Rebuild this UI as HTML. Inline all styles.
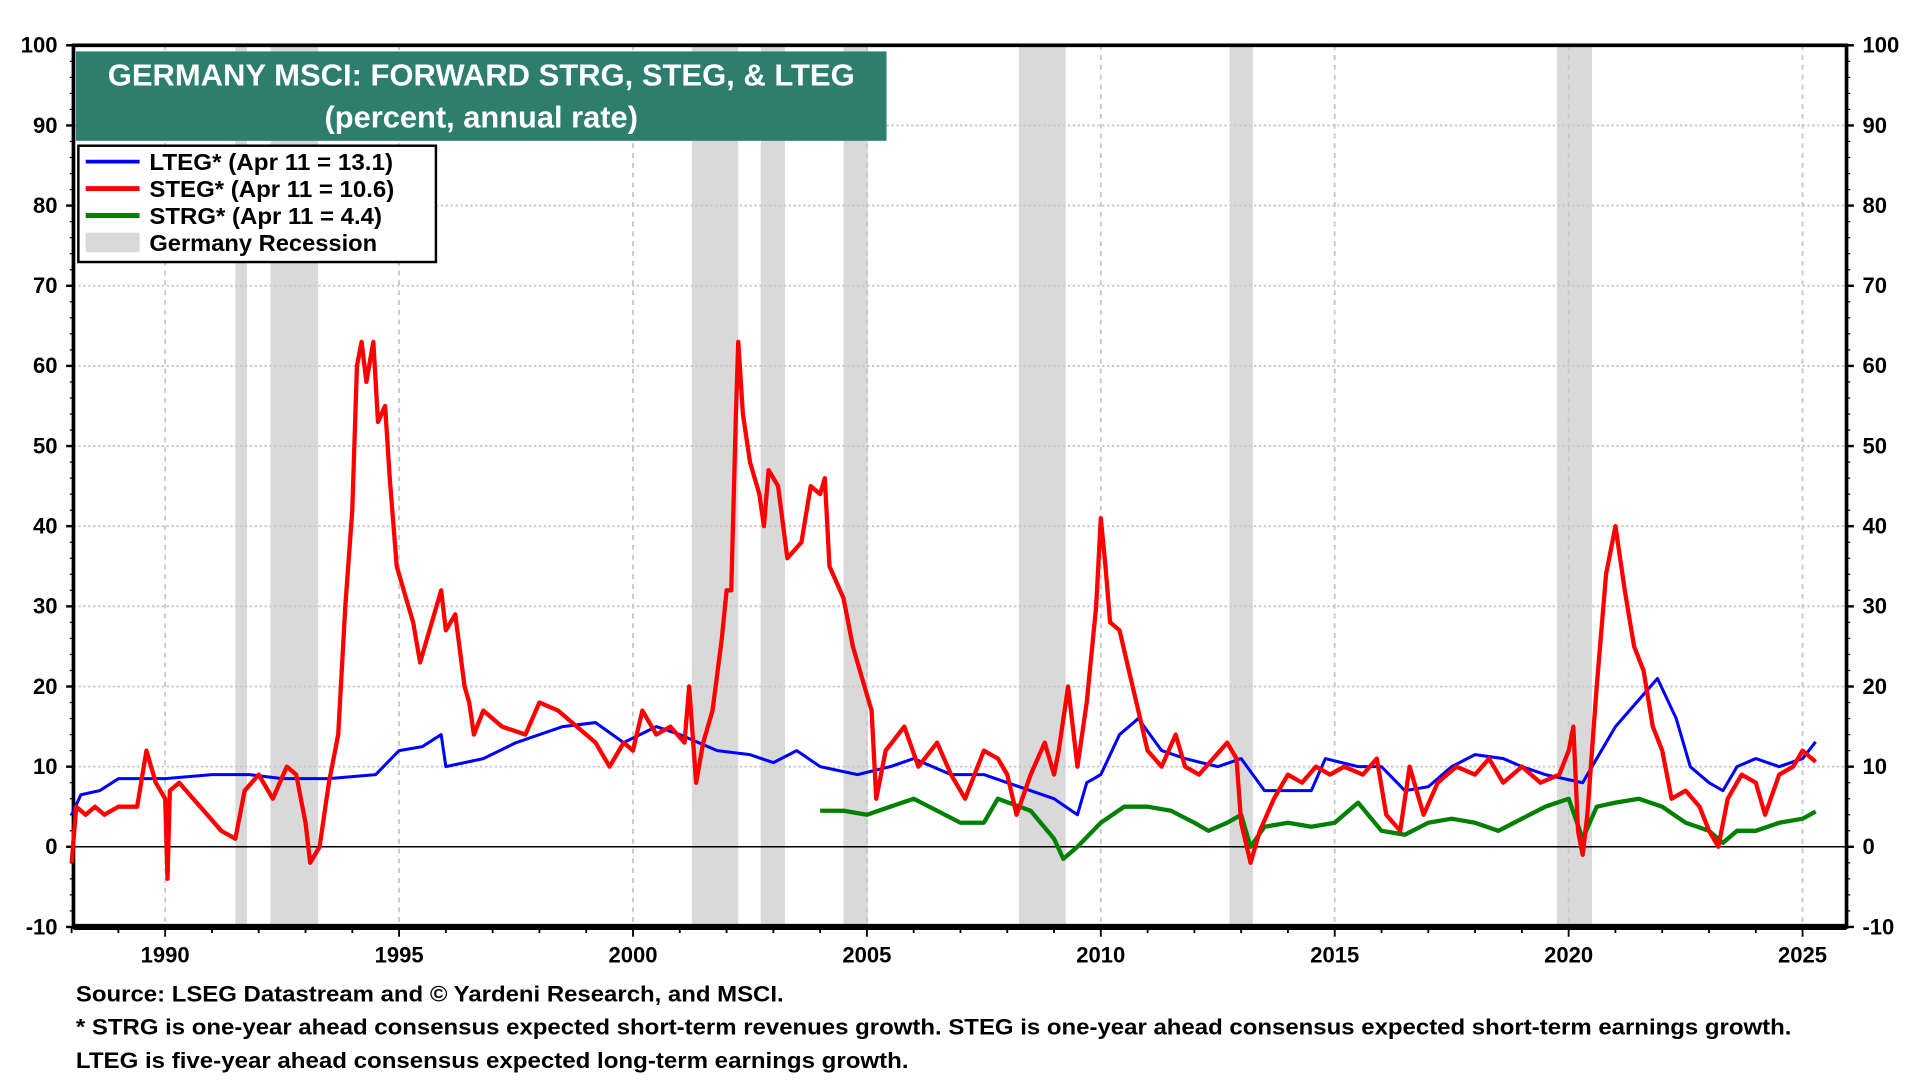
<!DOCTYPE html>
<html><head><meta charset="utf-8"><style>
html,body{margin:0;padding:0;background:#fff;}
svg{display:block;font-family:"Liberation Sans",sans-serif;font-weight:bold;}
</style></head><body>
<svg id="chart" width="1920" height="1080" viewBox="0 0 1568 882" preserveAspectRatio="none" xmlns="http://www.w3.org/2000/svg">
<g id="rec"></g>
<g id="grid"></g>
<g id="axes"></g>
<g id="series"></g>
<rect x="62" y="42" width="662" height="73" fill="#2e7e70"/>
<text x="393" y="70" fill="#fff" font-size="25" text-anchor="middle" textLength="610" lengthAdjust="spacingAndGlyphs">GERMANY MSCI: FORWARD STRG, STEG, &amp; LTEG</text>
<text x="393" y="104" fill="#fff" font-size="25" text-anchor="middle" textLength="256" lengthAdjust="spacingAndGlyphs">(percent, annual rate)</text>
<g>
<rect x="64" y="119" width="292" height="95" fill="#fff" stroke="#000" stroke-width="2"/>
<line x1="70" y1="132" x2="114" y2="132" stroke="#0000ff" stroke-width="3"/>
<text x="122" y="139" font-size="19" textLength="199" lengthAdjust="spacingAndGlyphs">LTEG* (Apr 11 = 13.1)</text>
<line x1="70" y1="154" x2="114" y2="154" stroke="#ff0000" stroke-width="4"/>
<text x="122" y="161" font-size="19" textLength="200" lengthAdjust="spacingAndGlyphs">STEG* (Apr 11 = 10.6)</text>
<line x1="70" y1="176" x2="114" y2="176" stroke="#008000" stroke-width="4"/>
<text x="122" y="183" font-size="19" textLength="190" lengthAdjust="spacingAndGlyphs">STRG* (Apr 11 = 4.4)</text>
<rect x="70" y="190" width="44" height="16" fill="#d9d9d9"/>
<text x="122" y="205" font-size="19" textLength="186" lengthAdjust="spacingAndGlyphs">Germany Recession</text>
</g>
<text x="62" y="818" font-size="18" textLength="578" lengthAdjust="spacingAndGlyphs">Source: LSEG Datastream and © Yardeni Research, and MSCI.</text>
<text x="62" y="845" font-size="18" textLength="1401" lengthAdjust="spacingAndGlyphs">* STRG is one-year ahead consensus expected short-term revenues growth. STEG is one-year ahead consensus expected short-term earnings growth.</text>
<text x="62" y="872" font-size="18" textLength="680" lengthAdjust="spacingAndGlyphs">LTEG is five-year ahead consensus expected long-term earnings growth.</text>
</svg>
<script>
const recessions=[[1991.5,1991.75],[1992.25,1993.27],[2001.26,2002.25],[2002.73,2003.25],[2004.5,2005.02],[2008.25,2009.25],[2012.75,2013.25],[2019.75,2020.5]];
const yTicks=[-10,0,10,20,30,40,50,60,70,80,90,100];
const xTickYears=[1990,1995,2000,2005,2010,2015,2020,2025];
const stegX=[1988.0,1988.1,1988.3,1988.5,1988.7,1989.0,1989.4,1989.6,1989.8,1990.0,1990.05,1990.1,1990.3,1990.6,1990.9,1991.2,1991.5,1991.7,1992.0,1992.3,1992.6,1992.8,1993.0,1993.1,1993.3,1993.5,1993.7,1993.85,1994.0,1994.1,1994.2,1994.3,1994.45,1994.55,1994.7,1994.8,1994.95,1995.1,1995.3,1995.45,1995.6,1995.9,1996.0,1996.2,1996.4,1996.5,1996.6,1996.8,1997.2,1997.7,1998.0,1998.4,1998.8,1999.2,1999.5,1999.8,2000.0,2000.2,2000.5,2000.8,2001.1,2001.2,2001.35,2001.5,2001.7,2001.9,2002.0,2002.1,2002.2,2002.25,2002.35,2002.5,2002.7,2002.8,2002.9,2003.1,2003.3,2003.6,2003.8,2004.0,2004.1,2004.2,2004.5,2004.7,2004.9,2005.1,2005.2,2005.4,2005.8,2006.1,2006.5,2006.8,2007.1,2007.5,2007.8,2008.0,2008.2,2008.5,2008.8,2009.0,2009.1,2009.3,2009.5,2009.7,2009.9,2010.0,2010.1,2010.2,2010.4,2010.6,2010.8,2011.0,2011.3,2011.6,2011.8,2012.1,2012.4,2012.7,2012.9,2013.0,2013.2,2013.4,2013.7,2014.0,2014.3,2014.6,2014.9,2015.2,2015.6,2015.9,2016.1,2016.4,2016.6,2016.9,2017.2,2017.6,2018.0,2018.3,2018.6,2019.0,2019.4,2019.8,2020.0,2020.1,2020.2,2020.3,2020.4,2020.6,2020.8,2021.0,2021.2,2021.4,2021.6,2021.8,2022.0,2022.2,2022.5,2022.8,2023.0,2023.2,2023.4,2023.7,2024.0,2024.2,2024.5,2024.8,2025.0,2025.28];
const stegV=[-2,5,4,5,4,5,5,12,8,6,-4,7,8,6,4,2,1,7,9,6,10,9,3,-2,0,8,14,30,42,60,63,58,63,53,55,46,35,32,28,23,26,32,27,29,20,18,14,17,15,14,18,17,15,13,10,13,12,17,14,15,13,20,8,13,17,26,32,32,54,63,54,48,44,40,47,45,36,38,45,44,46,35,31,25,21,17,6,12,15,10,13,9,6,12,11,9,4,9,13,9,12,20,10,18,30,41,35,28,27,22,17,12,10,14,10,9,11,13,11,3,-2,2,6,9,8,10,9,10,9,11,4,2,10,4,8,10,9,11,8,10,8,9,12,15,2,-1,4,20,34,40,32,25,22,15,12,6,7,5,2,0,6,9,8,4,9,10,12,10.6];
const ltegX=[1988.0,1988.2,1988.6,1989.0,1990,1991,1991.8,1992.5,1993.5,1994.5,1995.0,1995.5,1995.9,1996.0,1996.8,1997.5,1998.5,1999.2,1999.8,2000.5,2001,2001.8,2002.5,2003,2003.5,2004,2004.8,2005.5,2006,2006.8,2007.5,2008.0,2008.5,2009.0,2009.5,2009.7,2010.0,2010.4,2010.8,2011.3,2011.8,2012.5,2013,2013.5,2014.0,2014.5,2014.8,2015.5,2016,2016.5,2017,2017.5,2018,2018.6,2019,2019.5,2020.3,2020.6,2021.0,2021.3,2021.9,2022.3,2022.6,2023.0,2023.3,2023.6,2024.0,2024.5,2025.0,2025.28];
const ltegV=[4,6.5,7,8.5,8.5,9,9,8.5,8.5,9,12,12.5,14,10,11,13,15,15.5,13,15,14,12,11.5,10.5,12,10,9,10,11,9,9,8,7,6,4,8,9,14,16,12,11,10,11,7,7,7,11,10,10,7,7.5,10,11.5,11,10,9,8,11,15,17,21,16,10,8,7,10,11,10,11,13.1];
const strgX=[2004.0,2004.5,2005,2005.5,2006,2006.5,2007,2007.5,2007.8,2008.5,2009.0,2009.2,2009.5,2010.0,2010.5,2011.0,2011.5,2012.0,2012.3,2012.7,2013.0,2013.2,2013.5,2014.0,2014.5,2015,2015.5,2016,2016.5,2017,2017.5,2018,2018.5,2019,2019.5,2020.0,2020.3,2020.6,2021,2021.5,2022,2022.5,2023,2023.3,2023.6,2024,2024.5,2025,2025.28];
const strgV=[4.5,4.5,4,5,6,4.5,3,3,6,4.5,1,-1.5,0,3,5,5,4.5,3,2,3,4,0,2.5,3,2.5,3,5.5,2,1.5,3,3.5,3,2,3.5,5,6,1,5,5.5,6,5,3,2,0.5,2,2,3,3.5,4.4];

const L=60,R=1508,T=37,B=757,X0=1988.04,X1=2025.94,Y0=-10,Y1=100;
const sx=v=>L+(v-X0)/(X1-X0)*(R-L);
const sy=v=>B-(v-Y0)/(Y1-Y0)*(B-T);
const NS='http://www.w3.org/2000/svg';
function mk(tag,attrs,parent){const e=document.createElementNS(NS,tag);for(const k in attrs)e.setAttribute(k,attrs[k]);parent.appendChild(e);return e;}
const rec=document.getElementById('rec'),grid=document.getElementById('grid'),axes=document.getElementById('axes'),ser=document.getElementById('series');
recessions.forEach(r=>{const e=mk('rect',{x:sx(r[0]),y:T,width:sx(r[1])-sx(r[0]),height:B-T,fill:'#d9d9d9'},rec);

});
yTicks.forEach(v=>{
 if(v>-10&&v<100&&v!==0){const g=mk('line',{x1:L,x2:R,y1:sy(v),y2:sy(v),stroke:'#c8c8c8','stroke-width':1.5,'stroke-dasharray':'2,2'},grid);
 
 }
 const t1=mk('text',{x:L-13,y:sy(v)+6,'font-size':18,'text-anchor':'end'},axes);t1.textContent=v;
 
 
 const t2=mk('text',{x:R+13,y:sy(v)+6,'font-size':18,'text-anchor':'start'},axes);t2.textContent=v;
 
 
 mk('line',{x1:L-6,x2:L,y1:sy(v),y2:sy(v),stroke:'#000','stroke-width':2},axes);
 mk('line',{x1:R,x2:R+6,y1:sy(v),y2:sy(v),stroke:'#000','stroke-width':2},axes);
});
for(let v=-10;v<100;v+=2){mk('line',{x1:L-3,x2:L,y1:sy(v),y2:sy(v),stroke:'#000','stroke-width':1},axes);mk('line',{x1:R,x2:R+3,y1:sy(v),y2:sy(v),stroke:'#000','stroke-width':1},axes);}
xTickYears.forEach(y=>{
 const g=mk('line',{x1:sx(y),x2:sx(y),y1:T,y2:B,stroke:'#c8c8c8','stroke-width':1.5,'stroke-dasharray':'4,4'},grid);
 
 
 const t=mk('text',{x:sx(y),y:B+29,'font-size':18,'text-anchor':'middle'},axes);t.textContent=y;
 
 
});
for(let y=1988;y<=2025;y++){mk('line',{x1:sx(y),x2:sx(y),y1:B,y2:B+(y%5===0?8:5),stroke:'#000','stroke-width':1.5},axes);}
mk('line',{x1:L,x2:R,y1:sy(0),y2:sy(0),stroke:'#000','stroke-width':1.2},axes);
mk('rect',{x:L,y:T,width:R-L,height:B-T,fill:'none',stroke:'#000','stroke-width':3},axes);
mk('line',{x1:L,x2:R,y1:B,y2:B,stroke:'#000','stroke-width':5},axes);
function line(xs,vs,color,w,name){const d=xs.map((x,i)=>(i?'L':'M')+sx(x).toFixed(1)+','+sy(vs[i]).toFixed(1)).join(' ');
 const p=mk('path',{d:d,fill:'none',stroke:color,'stroke-width':w,'stroke-linejoin':'round'},ser);
 
 }
line(strgX,strgV,'#008000',3.5,'strg-line');
line(ltegX,ltegV,'#0000ff',2.5,'lteg-line');
line(stegX,stegV,'#ff0000',3.5,'steg-line');
</script>
</body></html>
